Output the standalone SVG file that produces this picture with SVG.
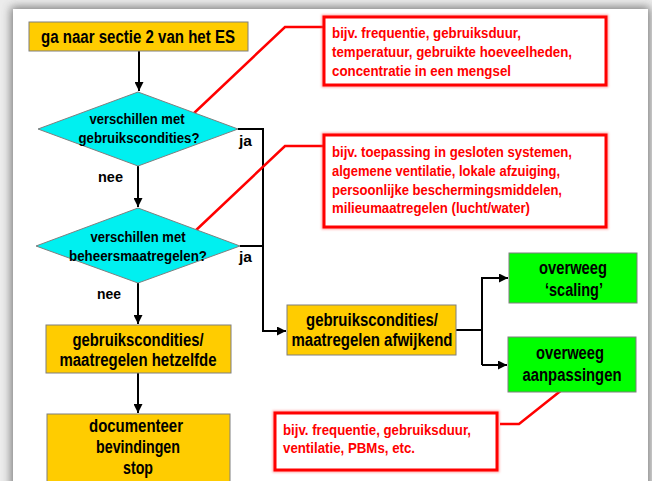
<svg xmlns="http://www.w3.org/2000/svg" width="652" height="481" viewBox="0 0 652 481">
<style>
.t{font-family:"Liberation Sans Narrow","Liberation Sans",Arial,sans-serif;font-weight:bold;fill:#000}
.bx{font-size:17.5px;text-anchor:middle}
.dm{font-size:14.5px;text-anchor:middle}
.lb{font-size:15px}
.rt{font-family:"Liberation Sans Narrow","Liberation Sans",Arial,sans-serif;font-weight:bold;font-size:15px;fill:#ff0000}
.org{fill:#ffcc00;stroke:#7f7f7f;stroke-width:1}
.grn{fill:#00ff00;stroke:#7f7f7f;stroke-width:1}
.dia{fill:#00f0f0;stroke:#7f7f7f;stroke-width:1}
.red{fill:#fff;stroke:#ff0000;stroke-width:3}
.ln{fill:none;stroke:#000;stroke-width:2}
.rl{fill:none;stroke:#ff0000;stroke-width:2.5}
</style>
<defs>
<marker id="ah" viewBox="0 0 10 10" refX="10" refY="5" markerWidth="4.5" markerHeight="4.5" orient="auto" markerUnits="strokeWidth">
<path d="M0,0 L10,5 L0,10 z" fill="#000"/>
</marker>
<filter id="sh" x="-10%" y="-10%" width="120%" height="120%">
<feGaussianBlur stdDeviation="5"/>
</filter>
<filter id="gl" x="-10%" y="-20%" width="120%" height="140%">
<feGaussianBlur stdDeviation="1.2"/>
</filter>
</defs>
<rect x="0" y="0" width="652" height="481" fill="#ececec"/>
<rect x="11" y="7" width="639" height="490" fill="#555" opacity="0.75" filter="url(#sh)"/>
<rect x="13" y="9" width="635" height="472" fill="#fff"/>

<g id="connectors">
<path class="ln" d="M139,51 V91" marker-end="url(#ah)"/>
<path class="ln" d="M138,166 V207" marker-end="url(#ah)"/>
<path class="ln" d="M138,283 V324" marker-end="url(#ah)"/>
<path class="ln" d="M138,373 V413" marker-end="url(#ah)"/>
<path class="ln" d="M238,129 H263 V331 H286" marker-end="url(#ah)"/>
<path class="ln" d="M240,246 H263"/>
<path class="ln" d="M456,330 H482"/>
<path class="ln" d="M482,365 V278 H508" marker-end="url(#ah)"/>
<path class="ln" d="M482,365 H507" marker-end="url(#ah)"/>
<path class="rl" d="M324,27 H285 L192,115"/>
<path class="rl" d="M324,146 H285 L193,233"/>
<path class="rl" d="M500,424 H519 L563,389"/>
<text class="t lb" x="239" y="146" textLength="13" lengthAdjust="spacingAndGlyphs">ja</text>
<text class="t lb" x="239" y="262" textLength="13" lengthAdjust="spacingAndGlyphs">ja</text>
<text class="t lb" x="98" y="182" textLength="25" lengthAdjust="spacingAndGlyphs">nee</text>
<text class="t lb" x="97" y="299" textLength="24" lengthAdjust="spacingAndGlyphs">nee</text>
</g>

<g id="start">
<rect class="org" x="29" y="22" width="219" height="29"/>
<text class="t bx" x="138" y="42.5" textLength="194" lengthAdjust="spacingAndGlyphs">ga naar sectie 2 van het ES</text>
</g>

<g id="decision1">
<polygon class="dia" points="138,92 238,129 138,166 38,129"/>
<text class="t dm" x="137" y="124" textLength="95" lengthAdjust="spacingAndGlyphs">verschillen met</text>
<text class="t dm" x="139" y="143" textLength="121" lengthAdjust="spacingAndGlyphs">gebruikscondities?</text>
</g>

<g id="decision2">
<polygon class="dia" points="138,208 240,246 138,283 36,246"/>
<text class="t dm" x="138" y="242" textLength="95" lengthAdjust="spacingAndGlyphs">verschillen met</text>
<text class="t dm" x="138" y="261" textLength="138" lengthAdjust="spacingAndGlyphs">beheersmaatregelen?</text>
</g>

<g id="same">
<rect class="org" x="46" y="325" width="185" height="48"/>
<text class="t bx" x="138" y="346" textLength="131" lengthAdjust="spacingAndGlyphs">gebruikscondities/</text>
<text class="t bx" x="138" y="366" textLength="157" lengthAdjust="spacingAndGlyphs">maatregelen hetzelfde</text>
</g>

<g id="document">
<rect class="org" x="47" y="414" width="183" height="70"/>
<text class="t bx" x="136" y="432" textLength="94" lengthAdjust="spacingAndGlyphs">documenteer</text>
<text class="t bx" x="138" y="453" textLength="84" lengthAdjust="spacingAndGlyphs">bevindingen</text>
<text class="t bx" x="138" y="474" textLength="30" lengthAdjust="spacingAndGlyphs">stop</text>
</g>

<g id="different">
<rect class="org" x="287" y="305" width="169" height="50"/>
<text class="t bx" x="372" y="326" textLength="132" lengthAdjust="spacingAndGlyphs">gebruikscondities/</text>
<text class="t bx" x="372" y="346" textLength="161" lengthAdjust="spacingAndGlyphs">maatregelen afwijkend</text>
</g>

<g id="scaling">
<rect class="grn" x="509" y="253" width="128" height="50"/>
<text class="t bx" x="573" y="274" textLength="68" lengthAdjust="spacingAndGlyphs">overweeg</text>
<text class="t bx" x="574" y="296" textLength="58" lengthAdjust="spacingAndGlyphs">‘scaling’</text>
</g>

<g id="adjust">
<rect class="grn" x="508" y="337" width="128" height="55"/>
<text class="t bx" x="570" y="359" textLength="68" lengthAdjust="spacingAndGlyphs">overweeg</text>
<text class="t bx" x="572" y="381" textLength="99" lengthAdjust="spacingAndGlyphs">aanpassingen</text>
</g>

<g id="note1">
<rect x="324" y="17" width="282" height="68" fill="none" stroke="#ff5555" stroke-width="5" opacity="0.5" filter="url(#gl)"/>
<rect class="red" x="324" y="17" width="282" height="68"/>
<text class="rt" x="332" y="38" textLength="189" lengthAdjust="spacingAndGlyphs">bijv. frequentie, gebruiksduur,</text>
<text class="rt" x="332" y="57" textLength="240" lengthAdjust="spacingAndGlyphs">temperatuur, gebruikte hoeveelheden,</text>
<text class="rt" x="332" y="76" textLength="179" lengthAdjust="spacingAndGlyphs">concentratie in een mengsel</text>
</g>

<g id="note2">
<rect x="324" y="135" width="282" height="92" fill="none" stroke="#ff5555" stroke-width="5" opacity="0.5" filter="url(#gl)"/>
<rect class="red" x="324" y="135" width="282" height="92"/>
<text class="rt" x="332" y="157" textLength="240" lengthAdjust="spacingAndGlyphs">bijv. toepassing in gesloten systemen,</text>
<text class="rt" x="332" y="176" textLength="228" lengthAdjust="spacingAndGlyphs">algemene ventilatie, lokale afzuiging,</text>
<text class="rt" x="332" y="195" textLength="230" lengthAdjust="spacingAndGlyphs">persoonlijke beschermingsmiddelen,</text>
<text class="rt" x="332" y="213" textLength="198" lengthAdjust="spacingAndGlyphs">milieumaatregelen (lucht/water)</text>
</g>

<g id="note3">
<rect x="275" y="413" width="222" height="57" fill="none" stroke="#ff5555" stroke-width="5" opacity="0.5" filter="url(#gl)"/>
<rect class="red" x="275" y="413" width="222" height="57"/>
<text class="rt" x="283" y="435" textLength="188" lengthAdjust="spacingAndGlyphs">bijv. frequentie, gebruiksduur,</text>
<text class="rt" x="283" y="453" textLength="132" lengthAdjust="spacingAndGlyphs">ventilatie, PBMs, etc.</text>
</g>
</svg>
